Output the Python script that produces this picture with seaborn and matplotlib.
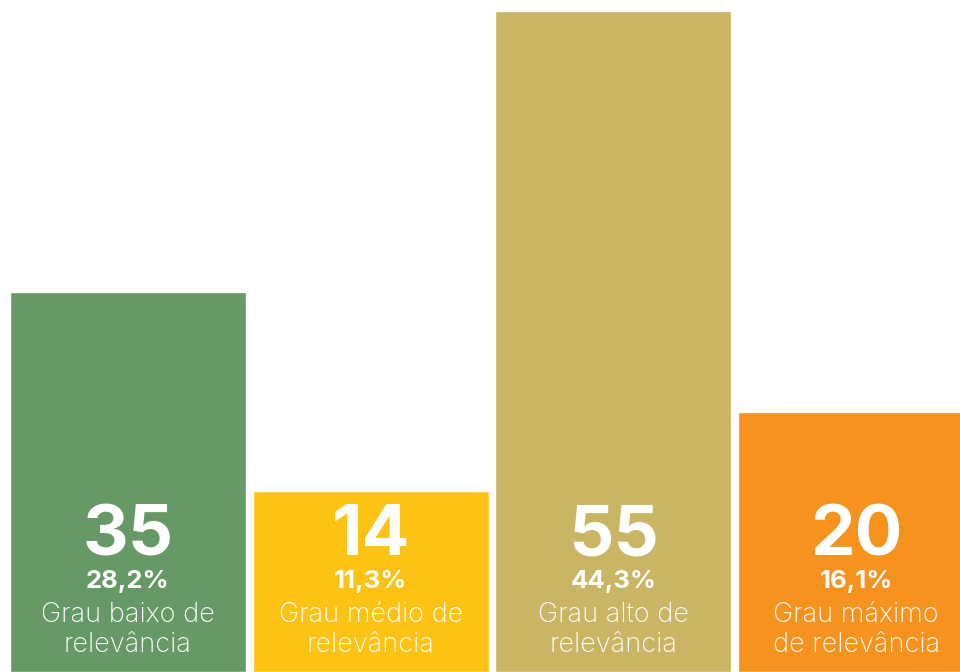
import matplotlib.pyplot as plt
import pandas as pd
import seaborn as sns

# valores do gráfico
categorias = ["baixo", "medio", "alto", "maximo"]
contagens = [35, 14, 55, 20]
percentuais = ["28,2%", "11,3%", "44,3%", "16,1%"]
rotulos = [
    "Grau baixo de\nrelevância",
    "Grau médio de\nrelevância",
    "Grau alto de\nrelevância",
    "Grau máximo\nde relevância",
]
# alturas desenhadas (escala onde a maior barra = 55)
alturas = [31.6, 15.1, 55.0, 21.6]
cores = ["#669966", "#FDC314", "#C9B563", "#F6921E"]

df = pd.DataFrame({"cat": categorias, "altura": alturas})

sns.set_theme(style="white")
plt.rcParams["font.family"] = ["Inter", "DejaVu Sans"]

fig = plt.figure(figsize=(9.6, 6.72), dpi=100)
ax = fig.add_axes([0, 0, 1, 1])

sns.barplot(
    df, x="cat", y="altura", hue="cat", palette=cores,
    width=0.972, legend=False, ax=ax, saturation=1,
)

ax.set_xlim(-0.527, 3.428)
ax.set_ylim(0, 55 * 672 / 661)
ax.axis("off")

tr = ax.get_xaxis_transform()
for i, (n, p, r) in enumerate(zip(contagens, percentuais, rotulos)):
    ax.text(i, 0.174, str(n), transform=tr, ha="center", va="baseline",
            color="white", fontsize=51, fontweight="bold")
    ax.text(i, 0.125, p, transform=tr, ha="center", va="baseline",
            color="white", fontsize=18.5, fontweight="bold")
    l1, l2 = r.split("\n")
    for y, linha in ((0.0744, l1), (0.0298, l2)):
        ax.text(i, y, linha, transform=tr, ha="center", va="baseline",
                color="white", fontsize=19.5, fontweight="light")

fig.savefig("out.png", dpi=100)
